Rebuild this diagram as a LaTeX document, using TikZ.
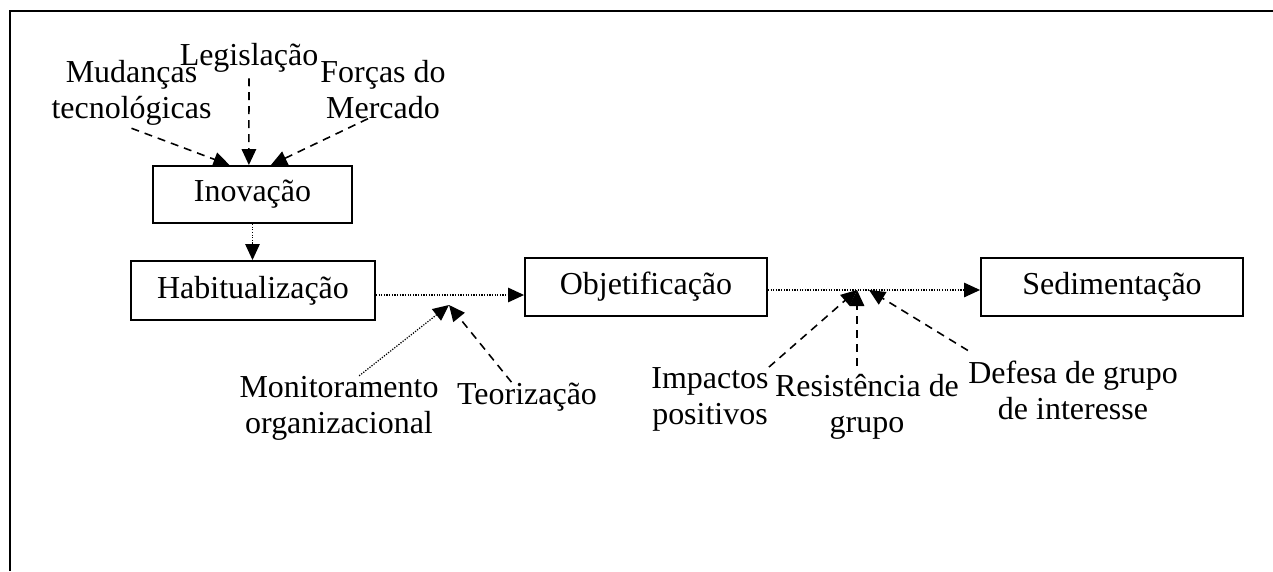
\documentclass[tikz,border=0pt]{standalone}
\usepackage{fontspec}
\setmainfont{Liberation Serif}
\usetikzlibrary{arrows.meta}

\begin{document}
\begin{tikzpicture}[x=0.02cm,y=-0.02cm,>={Triangle[length=0.32cm,width=0.29cm]},
        every node/.style={font=\fontsize{18.2}{20.3}\selectfont},
        stage/.style={draw,line width=1.1pt,minimum height=1.16cm,inner sep=0pt},
        txt/.style={align=center,inner sep=0pt,anchor=base},
        flow/.style={->,line width=0.7pt,dash pattern=on 0.7pt off 0.8pt},
        push/.style={->,line width=0.9pt,dash pattern=on 0.16cm off 0.12cm}]
    \useasboundingbox (0,0) rectangle (1273,571);

    % draw the frame
    \draw[line width=1.4pt] (10,571) -- (10,11) -- (1273,11);

    % the stages
    \node[stage,minimum width=3.98cm,minimum height=1.14cm] (inov) at (252.5,194.5) {Inovação};
    \node[stage,minimum width=4.88cm,minimum height=1.18cm] (hab) at (253,290.5) {Habitualização};
    \node[stage,minimum width=4.84cm] (obj) at (646,287) {Objetificação};
    \node[stage,minimum width=5.24cm] (sed) at (1112,287) {Sedimentação};

    % text at the forces (base is the last line)
    \node[txt] (mud) at (131.5,118) {Mudanças\\tecnológicas};
    \node[txt] (leg) at (249,66) {Legislação};
    \node[txt] (forc) at (383,118) {Forças do\\Mercado};
    \node[txt] (mon) at (339,433) {Monitoramento\\organizacional};
    \node[txt] (teo) at (527,404) {Teorização};
    \node[txt] (imp) at (710,424) {Impactos\\positivos};
    \node[txt] (res) at (867,432) {Resistência de\\grupo};
    \node[txt] (def) at (1073,419) {Defesa de grupo\\de interesse};

    % meeting points on the flow
    \coordinate (jl) at (449,305);
    \coordinate (jr) at (857,290);
    \coordinate (jd) at (869,290);

    % flow between the stages
    \draw[flow] (inov.south) -- (inov.south |- hab.north);
    \draw[flow] ([yshift=-0.09cm]hab.east) -- ([yshift=-0.09cm]hab.east -| obj.west);
    \draw[flow] ([yshift=-0.06cm]obj.east) -- ([yshift=-0.06cm]obj.east -| sed.west);

    % forces on the innovation
    \draw[push] ([yshift=-0.06cm]mud.south) -- (inov.128);
    \draw[push] ([yshift=-0.1cm]leg.south) -- (inov.97);
    \draw[push] ([xshift=-0.3cm]forc.south) -- (inov.58);

    % forces on the theorisation
    \draw[flow] (mon.58) -- (jl);
    \draw[push] (teo.137) -- (jl);

    % forces on the sedimentation
    \draw[push] (imp.north east) -- (jr);
    \draw[push] ([yshift=0.16cm]res.north -| jr) -- (jr);
    \draw[push] ([yshift=0.2cm]def.north west) -- (jd);
\end{tikzpicture}
\end{document}
